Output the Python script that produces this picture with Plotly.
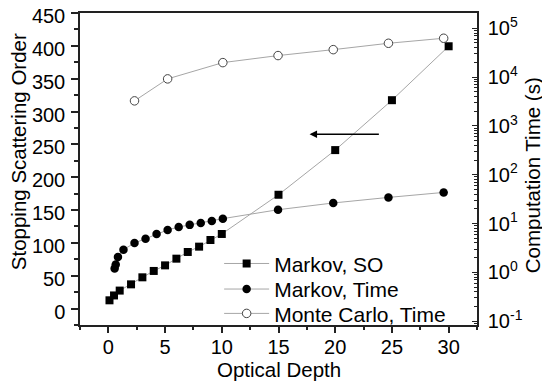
import plotly.graph_objects as go

# Markov stopping scattering order (left axis)
so_depth = [0.1, 0.5, 1, 2, 3, 4, 5, 6, 7, 8, 9, 10, 15, 20, 25, 30]
so_order = [12.6, 20, 27.4, 36.9, 47.6, 57.3, 65.8, 76, 86.2, 94.3, 104.4, 113.6, 173.3, 241.3, 317.3, 399.4]

# Markov computation time (right axis, seconds)
mk_depth = [0.2, 0.3, 0.5, 1, 2, 3, 4, 5, 6, 7, 8, 9, 10, 15, 20, 25, 30]
mk_time = [1.2, 1.45, 2.07, 2.92, 4.0, 4.9, 6.1, 7.4, 8.5, 9.4, 10.3, 11.3, 12.6, 19.2, 26.4, 34.3, 43.4]

# Monte Carlo computation time (right axis, seconds)
mc_depth = [2, 5, 10, 15, 20, 25, 30]
mc_time = [3260, 9190, 19800, 27600, 36500, 49300, 62500]

x_ticks = [0, 5, 10, 15, 20, 25, 30]
y_ticks = [0, 50, 100, 150, 200, 250, 300, 350, 400, 450]
t_ticks = [0.1, 1, 10, 100, 1000, 10000, 100000]
t_labels = ["10<sup>-1</sup>", "10<sup>0</sup>", "10<sup>1</sup>", "10<sup>2</sup>",
            "10<sup>3</sup>", "10<sup>4</sup>", "10<sup>5</sup>"]

FONT = "Liberation Sans, Arial, sans-serif"
LINE = "#a6a6a6"
AX = "#222222"

fig = go.Figure()
fig.add_trace(go.Scatter(
    x=so_depth, y=so_order, name="Markov, SO", mode="lines+markers",
    line=dict(color=LINE, width=1),
    marker=dict(symbol="square", size=8, color="black"),
    xaxis="x", yaxis="y", legend="legend"))
fig.add_trace(go.Scatter(
    x=mk_depth, y=mk_time, name="Markov, Time", mode="lines+markers",
    line=dict(color=LINE, width=1),
    marker=dict(symbol="circle", size=8.5, color="black"),
    xaxis="x2", yaxis="y2", legend="legend2"))
fig.add_trace(go.Scatter(
    x=mc_depth, y=mc_time, name="Monte Carlo, Time", mode="lines+markers",
    line=dict(color=LINE, width=1),
    marker=dict(symbol="circle", size=8.5, color="white",
                line=dict(color="#444444", width=1)),
    xaxis="x2", yaxis="y2", legend="legend3"))

# page body has an 8px margin; positions below are window pixels
OFF = 8
W, H = 550, 385
L, T = 80 - OFF, 13 - OFF
R = W - (476.6 - OFF)
B = H - (325.5 - OFF)
pw, ph = W - L - R, H - T - B

def px(xw):
    return (xw - OFF - L) / pw

def py(yw):
    return (H - B - (yw - OFF)) / ph

def leg(center_y):
    return dict(x=px(219), y=py(center_y - 18), xanchor="left", yanchor="top",
                bgcolor="rgba(0,0,0,0)", borderwidth=0,
                font=dict(size=21, family=FONT), itemwidth=45)

fig.update_layout(
    width=W, height=H,
    margin=dict(l=L, r=R, t=T, b=B, pad=0, autoexpand=False),
    paper_bgcolor="white", plot_bgcolor="white",
    font=dict(family=FONT, size=20, color="black"),
    showlegend=True,
    legend=leg(261.7), legend2=leg(287.3), legend3=leg(311.7),
    xaxis=dict(range=[-2.5, 32.5], tickvals=x_ticks, ticks="outside", ticklen=6,
               tickwidth=1.5, tickcolor=AX, showline=True, linecolor=AX,
               linewidth=1.5, mirror=True, showgrid=False, zeroline=False,
               automargin=False, ticklabelstandoff=-3, ticklabeloverflow="allow",
               minor=dict(dtick=2.5, tick0=0, ticks="outside", ticklen=3.5,
                          tickwidth=1.5, tickcolor=AX)),
    xaxis2=dict(range=[-2.937, 33.02], overlaying="x", visible=False,
                showgrid=False, zeroline=False, automargin=False),
    yaxis=dict(range=[-25, 450.05], tickvals=y_ticks, ticks="outside", ticklen=7,
               tickwidth=1.5, tickcolor=AX, showline=True,
               linecolor=AX, linewidth=1.5, showgrid=False,
               zeroline=False, ticklabelstandoff=2, automargin=False,
               ticklabeloverflow="allow", ticklabelshift=3,
               minor=dict(dtick=25, tick0=0, ticks="outside", ticklen=4,
                          tickwidth=1.5, tickcolor=AX)),
    yaxis2=dict(type="log", range=[-1.078, 5.313], overlaying="y", side="right",
                anchor="x", tickvals=t_ticks, ticktext=t_labels, ticks="inside",
                ticklen=5, tickwidth=1.2, tickcolor=AX, showline=True,
                linecolor=AX, linewidth=1.5, showgrid=False,
                zeroline=False, ticklabelstandoff=5, automargin=False,
                ticklabeloverflow="allow",
                minor=dict(dtick="D1", ticks="inside", ticklen=3, tickwidth=1,
                           tickcolor=AX)),
    annotations=[
        dict(text="Optical Depth", xref="paper", yref="paper", x=0.5, y=py(370),
             xanchor="center", yanchor="middle", showarrow=False,
             font=dict(size=20.5)),
        dict(text="Stopping Scattering Order", xref="paper", yref="paper",
             x=px(18.5), y=py(152), xanchor="center", yanchor="middle",
             textangle=-90, showarrow=False, font=dict(size=20.5)),
        dict(text="Computation Time (s)", xref="paper", yref="paper",
             x=px(532), y=py(175), xanchor="center", yanchor="middle",
             textangle=-90, showarrow=False, font=dict(size=20.5)),
        dict(text="", x=17.74, y=265.6, ax=23.98, ay=265.6, xref="x", yref="y",
             axref="x", ayref="y", showarrow=True, arrowhead=2, arrowsize=1,
             arrowwidth=1.5, arrowcolor="black"),
    ],
)

fig.write_html("out.html")
